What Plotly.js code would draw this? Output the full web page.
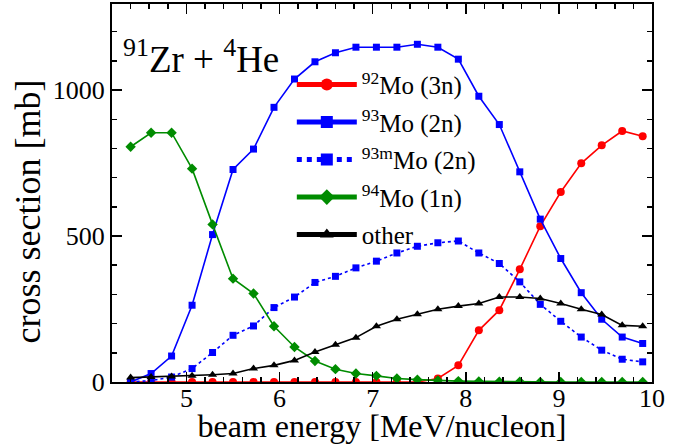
<!DOCTYPE html>
<html>
<head>
<meta charset="utf-8">
<script src="https://cdn.plot.ly/plotly-3.0.1.min.js"></script>
<style>html,body{margin:0;padding:0;background:#fff;}#plot{width:689px;height:444px;}</style>
</head>
<body>
<div id="plot"></div>
<script>
// beam energy [MeV/nucleon]
var energy = [4.40,4.62,4.84,5.06,5.28,5.50,5.72,5.94,6.16,6.38,6.60,6.82,7.04,7.26,7.48,7.70,7.92,8.14,8.36,8.58,8.80,9.02,9.24,9.46,9.68,9.90];
// cross sections [mb]
var mo92_3n  = [0,0,0,0,0,0,0,0,0,0,0,0,0,0,0,12,57,177,246,386,534,651,749,811,860,842];
var mo93_2n  = [0,29,89,263,505,728,798,941,1038,1097,1128,1147,1147,1147,1157,1147,1106,979,882,720,558,423,306,215,154,132];
var mo93m_2n = [0,5,17,46,101,160,192,255,291,341,362,391,414,442,465,477,483,442,406,343,266,208,154,109,78,69];
var mo94_1n  = [806,854,854,731,540,354,303,191,120,72,44,29,21,12,8,5,3,2,1,1,0,0,0,0,0,0];
var other    = [15,17,19,21,25,29,46,57,74,103,128,152,191,215,232,249,260,269,291,291,286,269,249,231,194,191];

var names = ['<sup>92</sup>Mo (3n)','<sup>93</sup>Mo (2n)','<sup>93m</sup>Mo (2n)','<sup>94</sup>Mo (1n)','other'];
var xTickVals = [5,6,7,8,9,10];
var yTickVals = [0,500,1000];

var serif = 'Liberation Serif';

var traces = [
  {x: energy, y: mo92_3n, name: names[0], legendgroup:'a', mode:'lines+markers',
   line:{color:'#ff0000', width:1.6}, marker:{symbol:'circle', size:8, color:'#ff0000'}},
  {x: energy, y: mo93_2n, name: names[1], legendgroup:'b', mode:'lines+markers',
   line:{color:'#0000ff', width:1.6}, marker:{symbol:'square', size:7, color:'#0000ff'}},
  {x: energy, y: mo93m_2n, name: names[2], legendgroup:'c', mode:'lines+markers',
   line:{color:'#0000ff', width:1.6, dash:'dot'}, marker:{symbol:'square', size:7, color:'#0000ff'}},
  {x: energy, y: mo94_1n, name: names[3], legendgroup:'d', mode:'lines+markers',
   line:{color:'#008c00', width:1.6}, marker:{symbol:'diamond', size:8, color:'#008c00'}},
  {x: energy, y: other, name: names[4], legendgroup:'e', mode:'lines+markers',
   line:{color:'#000000', width:1.6}, marker:{symbol:'triangle-up', size:8, color:'#000000'}}
];

var layout = {
  width: 689, height: 444,
  margin: {l:112, r:37, t:4, b:62},
  paper_bgcolor:'#ffffff', plot_bgcolor:'#ffffff',
  font: {family: serif, color:'#000000', size:24},
  showlegend: true,
  legend: {x:0.333, y:0.847, xanchor:'left', yanchor:'top', bgcolor:'rgba(0,0,0,0)',
           font:{family: serif, size:25, color:'#000'}, traceorder:'grouped', tracegroupgap:2,
           itemwidth:60, itemsizing:'constant'},
  xaxis: {range:[4.2,10], tickvals: xTickVals, ticktext: xTickVals.map(String),
          ticks:'inside', ticklen:10, tickwidth:1.5, tickcolor:'#000',
          minor:{dtick:0.2, ticks:'inside', ticklen:5, tickwidth:1.5, tickcolor:'#000'},
          showline:true, linewidth:2, linecolor:'#000', mirror:'ticks',
          showgrid:false, zeroline:false, tickfont:{size:26, family: serif, color:'#000'},
          ticklabelstandoff:-8,
          title:{text:'beam energy [MeV/nucleon]', font:{size:32, family: serif, color:'#000'}, standoff:5}},
  yaxis: {range:[0,1295], tickvals: yTickVals, ticktext: yTickVals.map(String),
          ticks:'inside', ticklen:10, tickwidth:1.5, tickcolor:'#000',
          minor:{dtick:100, ticks:'inside', ticklen:5, tickwidth:1.5, tickcolor:'#000'},
          showline:true, linewidth:2, linecolor:'#000', mirror:'ticks',
          showgrid:false, zeroline:false, tickfont:{size:26, family: serif, color:'#000'}},
  annotations: [
    {text:'<sup>91</sup>Zr + <sup>4</sup>He', xref:'paper', yref:'paper', x:0.016, y:0.862,
     xanchor:'left', yanchor:'middle', showarrow:false, font:{size:37, family: serif, color:'#000'}},
    {text:'cross section [mb]', xref:'paper', yref:'paper', x:-0.155, y:0.452,
     xanchor:'center', yanchor:'middle', textangle:-90, showarrow:false,
     font:{size:36, family: serif, color:'#000'}}
  ]
};

Plotly.newPlot('plot', traces, layout, {displayModeBar:false, staticPlot:true});
</script>
</body>
</html>
